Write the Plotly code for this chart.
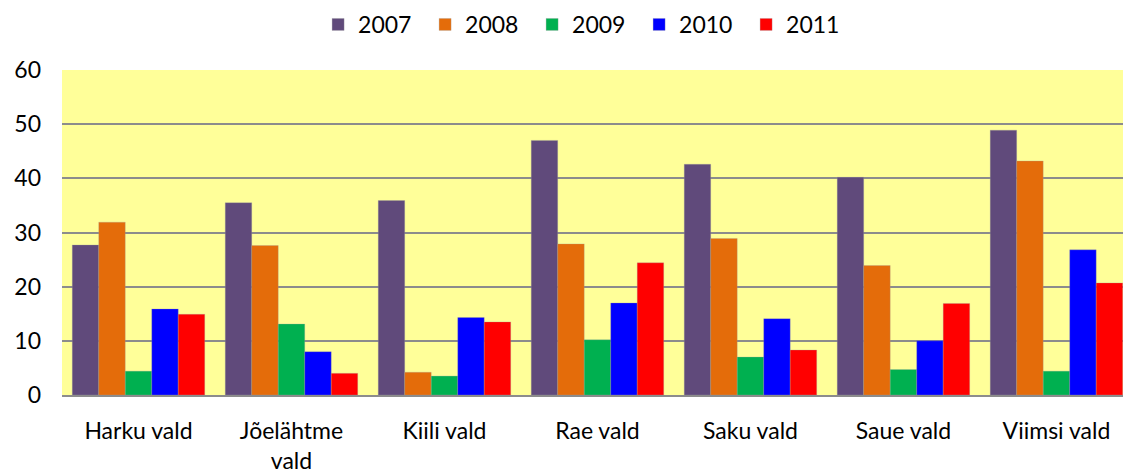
import plotly.graph_objects as go

categories = ["Harku vald", "Jõelähtme vald", "Kiili vald", "Rae vald", "Saku vald", "Saue vald", "Viimsi vald"]
tick_labels = ["Harku vald", "Jõelähtme<br>vald", "Kiili vald", "Rae vald", "Saku vald", "Saue vald", "Viimsi vald"]
years = ["2007", "2008", "2009", "2010", "2011"]

v2007 = [27.7, 35.5, 35.9, 47.0, 42.6, 40.2, 48.9]
v2008 = [31.9, 27.6, 4.2, 27.9, 28.9, 23.9, 43.2]
v2009 = [4.4, 13.1, 3.5, 10.2, 7.0, 4.7, 4.4]
v2010 = [15.9, 8.0, 14.3, 17.0, 14.1, 10.0, 26.8]
v2011 = [14.9, 4.0, 13.5, 24.4, 8.3, 16.9, 20.7]

series = [v2007, v2008, v2009, v2010, v2011]
colors = ["#604A7B", "#E46C0A", "#00B050", "#0000FF", "#FF0000"]

fig = go.Figure()
for name, vals, col in zip(years, series, colors):
    fig.add_trace(go.Bar(
        name=name, x=categories, y=vals,
        marker=dict(color=col, line=dict(color="rgba(160,160,160,0.6)", width=0.5)),
    ))

fig.update_layout(
    width=1123, height=472,
    margin=dict(l=62, r=0, t=70, b=77),
    paper_bgcolor="white",
    plot_bgcolor="#FFFF99",
    barmode="group",
    bargap=0.134,
    bargroupgap=0,
    font=dict(family="Lato, Open Sans, sans-serif", size=23, color="#000000"),
    showlegend=True,
    legend=dict(
        orientation="h", x=0.4935, xanchor="center", y=1.14, yanchor="middle",
        font=dict(size=23), entrywidth=62, itemwidth=30,
        bgcolor="rgba(0,0,0,0)",
    ),
    xaxis=dict(
        tickmode="array", tickvals=categories, ticktext=tick_labels,
        range=[-0.5, 6.435], automargin=False,
        showgrid=False, showline=True, linecolor="#8C8C8C", linewidth=2,
        ticks="", tickfont=dict(size=23), ticklabelstandoff=14,
    ),
    yaxis=dict(
        range=[0, 60], dtick=10, tick0=0, automargin=False,
        showgrid=True, gridcolor="#8C8C8C", gridwidth=1.5,
        zeroline=False, showline=False, ticks="",
        tickfont=dict(size=23), ticklabelstandoff=20,
    ),
)

fig.write_html(
    "out.html",
    config={"displayModeBar": False},
    post_script="document.body.style.margin='0';document.body.style.overflow='hidden';",
)
